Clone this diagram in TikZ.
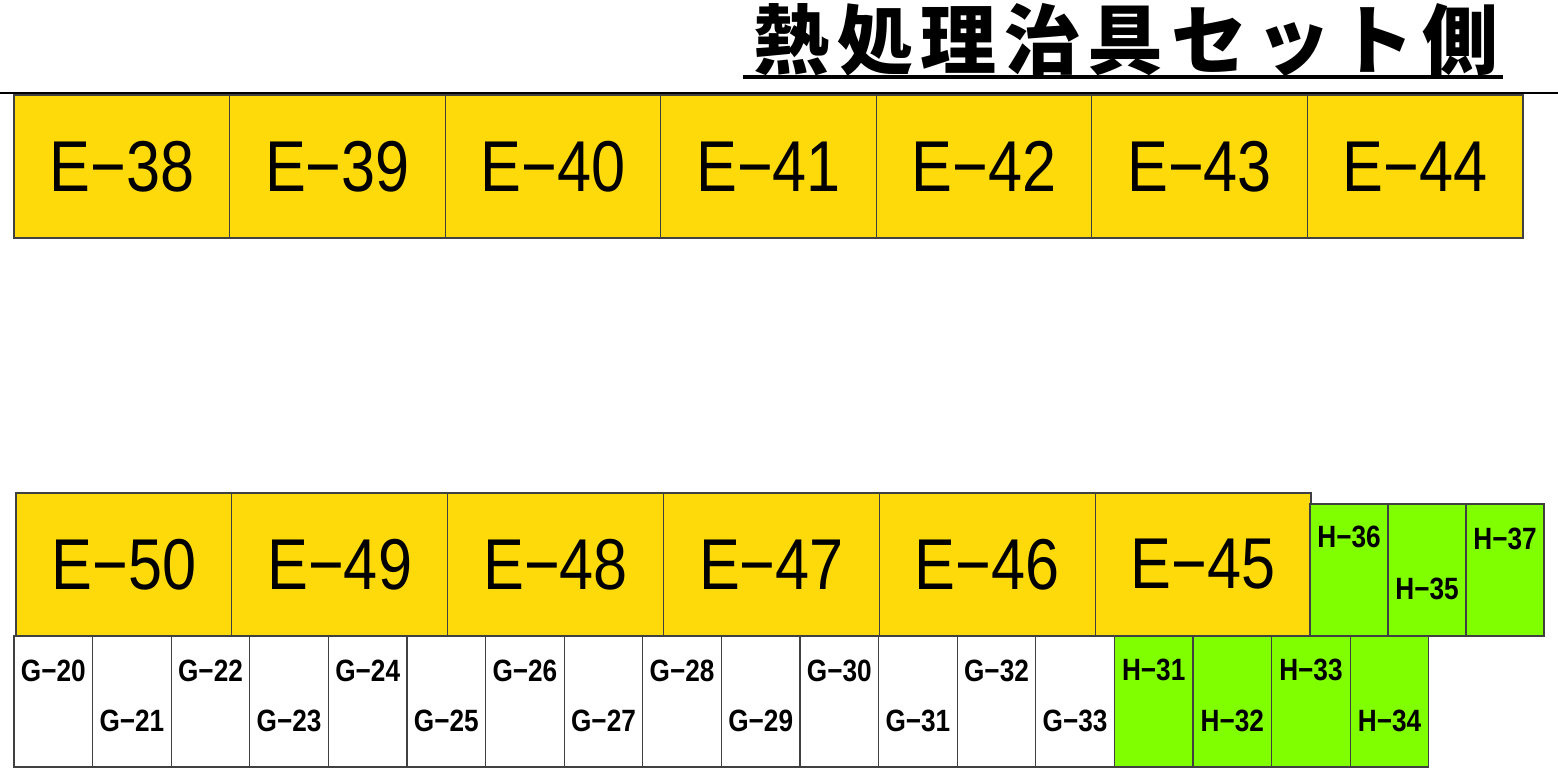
\documentclass[tikz,border=0pt]{standalone}
\usepackage{fontspec}
\usepackage{tikz}
\setmainfont{Liberation Sans}
\newfontfamily\boxfont{Liberation Sans}[FakeStretch=0.85]
\newfontfamily\titlefont{Noto Sans CJK JP}[LetterSpace=10]
\definecolor{jigyellow}{HTML}{FFDA0B}
\definecolor{jiggreen}{HTML}{7FFF00}
\definecolor{edge}{HTML}{404040}
\tikzset{
  ebox/.style={draw=edge,line width=0.6pt,fill=jigyellow,inner sep=0pt,outer sep=0pt,
    minimum width=107.8pt,minimum height=71.5pt,font=\boxfont\fontsize{36}{40}\selectfont},
  gbox/.style={draw=edge,line width=0.6pt,fill=white,inner sep=0pt,outer sep=0pt,
    minimum width=39.3pt,minimum height=65.5pt},
  hbox/.style={gbox,fill=jiggreen},
  slabel/.style={inner sep=0pt,font=\boxfont\bfseries\fontsize{15.4}{17}\selectfont},
  titleline/.style={line width=2pt,draw=black}
}
\begin{document}
\begin{tikzpicture}[x=0.5pt,y=-0.5pt]
\useasboundingbox (0,0) rectangle (1558,777);
% title
\node[inner sep=0pt,anchor=base,font=\titlefont\bfseries\fontsize{38}{42}\selectfont] (title) at (1126,68) {熱処理治具セット側};
\draw[titleline] ([xshift=-5pt,yshift=-4.5pt]title.base west) -- ([xshift=2pt,yshift=-4.5pt]title.base east);
\draw[line width=1pt] (0,93) -- (1558,93);
% upper row
\foreach \n [count=\i from 0] in {38,...,44}
  \node[ebox] (e\n) at ({121.8+\i*215.57},166.5) {E−\n};
% G row and lower H row
\foreach \n [count=\i from 0] in {20,...,33}
  \node[gbox] (g\n) at ({53.3+\i*78.6},701.5) {};
\foreach \n [count=\i from 14] in {31,...,34}
  \node[hbox] (h\n) at ({53.3+\i*78.6},701.5) {};
\foreach \n in {20,22,...,32}
  \node[slabel] at ([yshift=-17.5pt]g\n.north) {G−\n};
\foreach \n in {21,23,...,33}
  \node[slabel] at ([yshift=23pt]g\n.south) {G−\n};
\node[slabel] at ([yshift=-17pt]h31.north) {H−31};
\node[slabel] at ([yshift=23pt]h32.south) {H−32};
\node[slabel] at ([yshift=-17pt]h33.north) {H−33};
\node[slabel] at ([yshift=23pt]h34.south) {H−34};
% lower row
\foreach \n [count=\i from 0] in {50,49,48,47,46,45}
  \node[ebox,minimum width=107.9pt] (e\n) at ({123.9+\i*215.83},564.5) {E−\n};
\foreach \n [count=\i from 0] in {36,35,37}
  \node[hbox,minimum width=39pt,minimum height=66pt] (h\n) at ({1349+\i*78},570) {};
\node[slabel] at ([yshift=-16.5pt]h36.north) {H−36};
\node[slabel] at ([yshift=23.5pt]h35.south) {H−35};
\node[slabel] at ([yshift=-17.5pt]h37.north) {H−37};
\end{tikzpicture}
\end{document}
